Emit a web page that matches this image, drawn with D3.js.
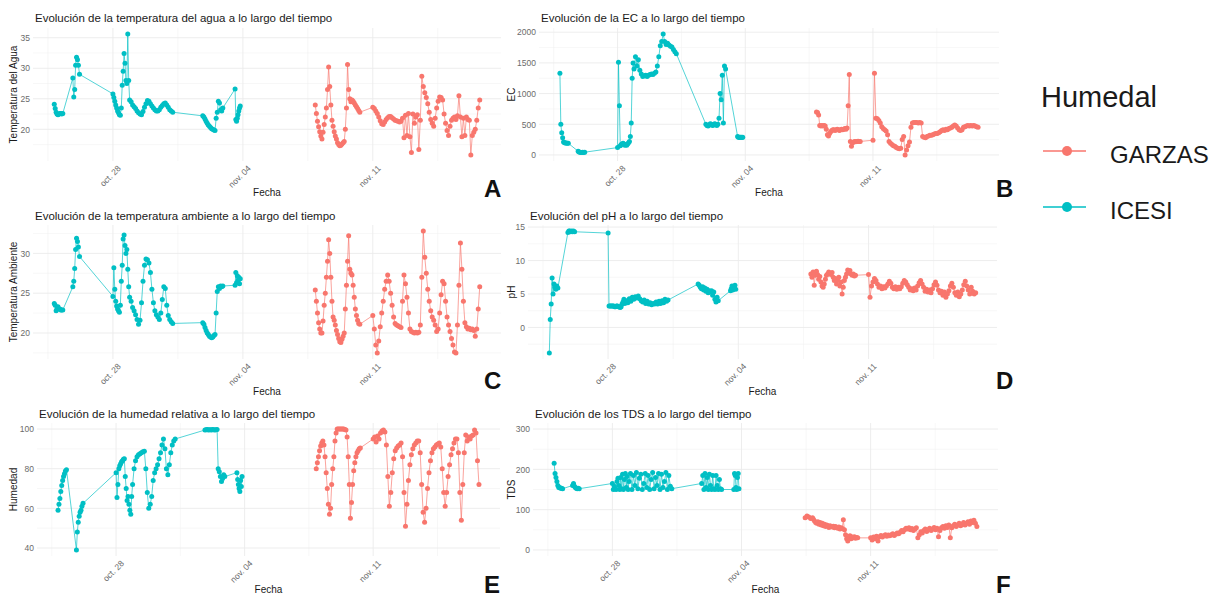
<!DOCTYPE html>
<html>
<head>
<meta charset="utf-8">
<script src="https://cdn.jsdelivr.net/npm/d3@7"></script>
<style>
  body { margin: 0; background: #fff; }
  svg { font-family: "Liberation Sans", Arial, sans-serif; }
</style>
</head>
<body>
<svg width="1230" height="597"></svg>
<script>
// sample times, in days after 24 Oct (both wetlands log every variable at the same times)
const tIcesi = [
  0.84, 0.89, 0.94, 0.99, 1.04, 1.09, 1.14, 1.19, 1.24, 1.30,
  1.84, 1.89, 1.94, 1.99, 2.04, 2.09, 2.14, 2.20,
  4.00, 4.05, 4.10, 4.15, 4.20, 4.25, 4.30, 4.35, 4.40,
  4.45, 4.50, 4.55, 4.60, 4.65, 4.70, 4.75, 4.80, 4.85, 4.90,
  4.98, 5.06, 5.14, 5.22, 5.30, 5.38, 5.46, 5.54, 5.62, 5.70, 5.78, 5.86, 5.94, 6.02, 6.10,
  6.18, 6.26, 6.34, 6.42, 6.50, 6.58, 6.66, 6.74, 6.82, 6.90, 6.98, 7.06, 7.14, 7.22,
  8.84, 8.90, 8.96, 9.02, 9.08, 9.14, 9.20, 9.26, 9.32, 9.38, 9.44, 9.50,
  9.56, 9.62, 9.68, 9.74, 9.80, 9.86, 9.92,
  10.58, 10.62, 10.66, 10.70, 10.74, 10.78, 10.82, 10.86
];
const tGarzas = [
  14.45, 14.55, 14.65, 14.75, 14.85,
  14.90, 14.96, 15.02, 15.08, 15.14, 15.20, 15.26, 15.32, 15.38, 15.44,
  15.50, 15.56, 15.62, 15.68, 15.74, 15.80, 15.86, 15.92, 15.98, 16.04,
  16.10, 16.16, 16.22, 16.28, 16.34, 16.40, 16.46, 16.52, 16.58, 16.64,
  16.70, 16.76, 16.82, 16.88, 16.94, 17.00, 17.06, 17.12, 17.18, 17.24, 17.30,
  18.00, 18.08, 18.16, 18.24, 18.32, 18.40, 18.48, 18.56, 18.64, 18.72,
  18.80, 18.88, 18.96, 19.04, 19.12, 19.20, 19.28, 19.36, 19.44, 19.52,
  19.60, 19.68, 19.76, 19.84, 19.92, 20.00, 20.08, 20.16, 20.24, 20.32,
  20.40, 20.48, 20.56, 20.64, 20.72, 20.80, 20.88, 20.96, 21.04, 21.12,
  21.20, 21.28, 21.36, 21.44, 21.52, 21.60, 21.68, 21.76, 21.84, 21.92,
  22.00, 22.08, 22.16, 22.24, 22.32, 22.40, 22.48, 22.56, 22.64, 22.72,
  22.80, 22.88, 22.96, 23.04, 23.12, 23.20, 23.28, 23.36, 23.44, 23.52,
  23.60, 23.68, 23.76
];

// A - temperatura del agua
const aguaIcesi = [
  24.1, 23.4, 22.8, 22.5, 22.4, 22.5, 22.6, 22.6, 22.5, 22.6,
  28.4, 25.3, 26.5, 30.5, 31.8, 31.4, 30.5, 29.0,
  25.8, 25.2, 24.6, 24.0, 23.5, 23.0, 22.7, 22.4, 22.3,
  23.5, 27.2, 29.5, 32.4, 30.8, 28.0, 27.5, 35.6, 28.0, 24.8,
  24.5, 24.0, 23.7, 23.4, 23.0, 22.7, 22.5, 22.4, 22.9, 23.6, 24.2, 24.7, 24.6, 24.2, 23.8,
  23.5, 23.2, 23.0, 23.0, 23.2, 23.6, 23.9, 24.2, 24.3, 24.0, 23.6, 23.2, 23.0, 22.8,
  22.2, 22.0, 21.7, 21.3, 21.0, 20.7, 20.5, 20.3, 20.1, 20.0, 19.9, 19.8,
  21.8, 22.8, 24.6, 24.3, 23.2, 23.0, 23.5,
  26.6, 21.6, 21.3, 21.8, 22.4, 23.0, 23.5, 23.8
];
const aguaGarzas = [
  null, null, null, null, null,
  24.0, 22.6, 21.3, 20.4, 19.6, 18.9, 18.4, 19.5, 20.8, 22.0,
  23.5, 26.5, 30.2, 27.0, 24.0, 21.5, 20.5, 19.6, 18.9, 18.4,
  17.8, 17.5, 17.3, 17.4, 17.6, 17.8, 18.0, 20.0, 23.5, 30.6,
  26.5, 25.0, 24.5, 24.8, 24.6, 24.3, 24.0, 23.7, 23.4, 23.1, 22.8,
  23.6, 23.4, 23.0, 22.6, 22.0, 21.4, 20.9, 20.8, 21.2, 21.6,
  21.9, 22.1, 22.1, 21.9, 21.7, 21.5, 21.4, 21.3, 21.2, 21.3,
  21.8, 18.6, 22.3, 19.0, 22.6, 18.8, 16.2, 22.5, 21.0, 22.0,
  22.4, 16.7, 21.5, 28.7, 27.0, 26.0, 25.2, 24.2, 22.8, 21.6,
  21.0, 20.5, 21.8, 23.5, 24.6, 25.3, 25.2, 24.8, 22.5, 21.0,
  19.8, 19.0, 20.5, 21.5, 21.8, 22.0, 21.6, 22.2, 25.5, 22.0,
  18.8, 21.8, 19.0, 22.0, 21.6, 21.5, 15.8, 19.0, 19.5, 20.0,
  21.5, 23.5, 24.8
];

// B - EC
const ecIcesi = [
  1330, 500, 360, 280, 210, 200, 195, 195, 190, 190,
  60, 50, 45, 40, 40, 45, 40, 45,
  120, 1510, 800, 150, 170, 180, 190, 180, 160,
  170, 160, 180, 200, 220, 300, 520, 1250, 1500, 1400,
  1600, 1450, 1550, 1380, 1320, 1280, 1290, 1300, 1280, 1300, 1310, 1320, 1310, 1330, 1350,
  1450, 1600, 1780, 1850, 1970, 1850, 1800, 1820, 1790, 1770, 1760, 1720, 1680, 1650,
  500, 480, 470, 490, 510, 500, 480, 490, 510, 500, 480, 500,
  600, 1000, 900, 1300, 520, 1450, 1400,
  300, 290, 290, 285, 290, 290, 285, 290
];
const ecGarzas = [
  null, null, null, null, null,
  700, 690, 650, 480, 470, 480, 470, 480, 470, 420,
  330, 310, 350, 380, 400, 410, 410, 400, 410, 420,
  410, 400, 410, 420, 410, 420, 430, 420, 440, 800,
  1310, 220, 140, 200, 210, 220, 215, 220, 225, 220, 220,
  240, 1330, 600, 590, 560, 520, 460, 430, 410, 390,
  330, 220, 190, 170, 150, 140, 120, 110, 100, 110,
  250, 300, 0, 80, 150, 210, 450, 520, 530, 530,
  530, 520, 530, 520, 300, 290, 280, 300, 310, 320,
  320, 330, 340, 350, 350, 360, 380, 400, 410, 400,
  420, 410, 430, 440, 450, 470, 490, 470, 440, 410,
  400, 410, 450, 460, 470, 480, 470, 480, 470, 480,
  470, 460, 450
];

// C - temperatura ambiente
const ambIcesi = [
  23.7, 23.5, 22.8, 23.1, 23.3, 23.0, 23.0, 22.9, 22.9, 22.9,
  25.8, 26.5, 28.1, 30.5, 31.9, 31.5, 30.8, 29.6,
  24.6, 28.2, 25.5, 24.0, 23.4, 23.0, 22.8, 22.6, 23.5,
  26.5, 28.5, 31.8, 32.3, 31.0, 30.0, 30.5, 28.0, 25.8, 24.5,
  24.0, 23.2, 22.8, 22.3, 21.7, 21.1, 21.6, 23.8, 26.5, 28.5, 29.3, 29.2, 28.8, 27.6, 25.5,
  23.8, 22.8, 22.3, 22.0, 21.7, 22.5, 24.2, 25.8, 25.6, 23.5, 22.2, 21.7, 21.4, 21.2,
  21.3, 21.1, 20.7, 20.3, 20.0, 19.8, 19.6, 19.5, 19.4, 19.5, 19.7, 19.8,
  22.5, 25.2, 25.8, 25.6, 25.9, 25.8, 25.9,
  26.0, 27.6, 26.3, 27.2, 26.6, 27.0, 26.2, 26.8
];
const ambGarzas = [
  null, null, null, null, null,
  25.4, 24.0, 22.5, 21.3, 20.5, 20.0, 20.0, 21.5, 23.5, 25.0,
  27.0, 29.0, 31.7, 30.0, 27.0, 24.0, 22.0, 21.6, 21.0, 20.3,
  19.8, 19.3, 18.9, 18.8, 19.2, 19.6, 20.0, 23.0, 26.0, 29.0,
  32.2, 28.0, 27.5, 27.3, 26.0, 24.5, 23.0, 22.2, 21.6, 21.2, 21.1,
  22.2, 20.5, 18.5, 17.5, 19.0, 20.8, 22.5, 24.0, 25.5, 26.5,
  27.3, 26.5, 25.0, 23.5, 22.0, 21.2, 21.0, 20.9, 20.8, 20.7,
  24.0, 27.3, 26.2, 24.5, 22.5, 20.5, 20.2, 20.1, 20.0, 20.1,
  20.0, 20.1, 21.0, 27.0, 32.8, 29.5, 27.5, 25.5, 24.0, 22.8,
  22.0, 21.6, 21.0, 20.2, 20.5, 22.5, 24.8, 26.5, 26.2, 24.0,
  22.0, 21.0, 20.2, 19.3, 18.5, 17.6, 17.5, 21.0, 26.0, 31.3,
  28.0, 24.0, 21.3, 20.8, 20.5, 20.6, 20.4, 20.5, 20.3, 19.6,
  20.5, 23.0, 25.8
];

// D - pH
const phIcesi = [
  -3.8, 1.2, 3.5, 7.4, 5.0, 6.5, 6.0, 5.7, 6.2, 5.9,
  14.2, 14.4, 14.4, 14.3, 14.4, 14.3, 14.4, 14.3,
  14.1, 3.2, 3.2, 3.2, 3.2, 3.2, 3.2, 3.1, 3.1,
  3.2, 3.2, 3.1, 3.1, 3.0, 3.1, 3.5, 3.8, 4.2, 3.6,
  4.0, 3.7, 4.3, 3.9, 4.5, 4.2, 4.6, 4.4, 4.7, 4.3, 4.0, 3.8, 4.1, 3.6, 3.9,
  3.5, 3.7, 3.4, 3.6, 3.5, 3.8, 3.5, 3.9, 3.6, 4.0, 3.7, 4.2, 3.9, 4.1,
  6.5, 6.3, 6.0, 5.8, 6.1, 5.6, 5.9, 5.4, 5.7, 5.2, 5.5, 5.3,
  5.5, 4.8, 5.3, 4.2, 3.8, 4.5, 4.0,
  5.5, 5.8, 6.2, 5.6, 6.0, 5.8, 6.3, 5.7
];
const phGarzas = [
  null, null, null, null, null,
  8.0, 7.5, 8.3, 6.3, 7.8, 8.4, 7.9, 7.2, 7.6, 6.8,
  6.2, 6.0, 6.5, 7.2, 7.8, 8.0, 8.3, 8.1, 7.9, 8.2,
  7.5, 7.0, 7.3, 6.5, 7.0, 7.5, 6.2, 6.8, 5.0, 6.0,
  7.0, 7.5, 8.0, 8.6, 8.3, 8.5, 8.0, 7.8, 8.0, 7.7, 7.8,
  7.9, 4.5, 6.2, 6.8, 7.3, 7.0, 6.5, 6.0, 6.2, 5.8,
  6.1, 5.9, 6.2, 6.5, 6.9, 6.6, 6.0, 5.8, 6.1, 5.7,
  6.0, 5.8, 6.1, 6.6, 7.0, 6.8, 6.4, 6.0, 5.6, 5.8,
  5.5, 5.9, 5.6, 6.2, 6.7, 7.0, 6.5, 6.0, 5.4, 5.7,
  5.3, 5.6, 5.2, 5.8, 6.4, 6.8, 6.3, 5.6, 5.2, 5.4,
  4.8, 5.3, 4.5, 5.0, 5.5, 6.2, 6.6, 6.0, 5.2, 4.8,
  5.3, 4.6, 5.0, 5.6, 6.4, 6.9, 6.2, 5.6, 5.0, 6.0,
  5.4, 5.0, 5.2
];

// E - humedad relativa
const humIcesi = [
  59.0, 62.0, 65.0, 68.5, 71.5, 74.0, 76.0, 77.5, 78.8, 79.5,
  39.0, 48.0, 53.0, 56.0, 58.0, 59.0, 61.0, 62.5,
  78.0, 65.5, 72.0, 80.0, 81.5, 82.5, 83.5, 84.0, 84.8,
  85.0, 76.0, 70.0, 64.0, 66.0, 62.0, 59.0, 57.0, 66.0, 72.0,
  80, 84, 86, 87, 87.5, 88, 88.5, 88.8, 80, 68, 60, 62, 66, 74, 78,
  80, 82, 85, 88, 92, 95, 90, 80, 77, 82, 88, 92, 94, 95,
  99.5, 99.6, 99.8, 99.5, 99.7, 99.6, 99.5, 99.8, 99.7, 99.5, 99.6, 99.8,
  80.0, 78.5, 76.0, 73.5, 75.0, 77.0, 76.0,
  78, 74.5, 72, 70, 68.5, 74, 71, 76
];
const humGarzas = [
  null, null, null, null, null,
  80.0, 83.0, 86.0, 89.0, 91.5, 93.0, 94.0, 92.0, 86.0, 78.0,
  70.0, 62.0, 57.0, 60.0, 72.0, 80.0, 86.0, 94.0, 98.0, 100.0,
  100.0, 100.0, 100.0, 100.0, 100.0, 100.0, 99.8, 99.5, 96.0, 86.0,
  72.0, 55.0, 63.0, 72.0, 79.0, 83.0, 86.0, 88.0, 89.0, 90.0, 90.5,
  95.0, 96.0, 93.5, 96.5, 95.0, 98.0, 99.0, 99.5, 98.5, 92.0,
  76.0, 61.0, 68.0, 78.0, 85.0, 89.0, 90.5, 91.5, 92.0, 93.0,
  86.0, 68.0, 51.0, 62.0, 74.0, 82.0, 87.0, 90.0, 92.0, 93.0,
  94.0, 94.0, 88.0, 72.0, 58.0, 53.0, 60.0, 70.0, 78.0, 84.0,
  88.0, 90.0, 91.0, 92.0, 92.5, 93.0, 91.0, 80.0, 68.0, 61.0,
  68.0, 76.0, 82.0, 87.0, 90.0, 93.0, 95.0, 95.0, 88.0, 68.0,
  54.0, 72.0, 88.0, 97.0, 94.0, 96.0, 95.0, 96.5, 97.0, 99.5,
  98.0, 84.0, 72.0
];

// F - TDS
const tdsIcesi = [
  215, 190, 180, 170, 160, 155, 155, 153, 153, 152,
  160, 165, 158, 155, 153, 152, 153, 152,
  165, 150, 158, 152, 150, 170, 178, 160, 150,
  180, 152, 188, 150, 175, 190, 155, 182, 150, 170,
  190, 150, 185, 160, 192, 152, 178, 188, 150, 165, 190, 155, 185, 150, 175,
  192, 152, 180, 160, 190, 150, 188, 155, 170, 192, 150, 185, 158, 152,
  165, 185, 150, 190, 155, 180, 150, 188, 160, 150, 185, 152,
  150, 185, 160, 150, 175, 152, 150,
  150, 190, 185, 155, 150, 180, 190, 152
];
const tdsGarzas = [
  80, 84, 82, 78, 80,
  76, 72, 68, 66, 70, 64, 68, 62, 66, 60,
  64, 58, 62, 60, 56, 60, 58, 57, 59, 55,
  58, 56, 54, 57, 52, 55, 53, 75, 50, 38,
  28, 22, 30, 35, 28, 32, 30, 33, 29, 31, 30,
  30, 25, 32, 28, 34, 22, 33, 36, 32, 35,
  38, 34, 37, 35, 38, 40, 36, 39, 42, 40,
  44, 48, 45, 50, 54, 52, 55, 50, 53, 48,
  52, 55, 30, 38, 45, 42, 48, 52, 46, 50,
  54, 48, 52, 56, 50, 54, 33, 48, 55, 58,
  54, 60, 56, 62, 30, 55, 60, 64, 58, 62,
  66, 60, 64, 68, 62, 66, 70, 64, 72, 68,
  74, 66, 58
];

const xTickDays = [4, 11, 18];
const xTickLabels = ["oct. 28", "nov. 04", "nov. 11"];
const xMinorDays = [0.5, 7.5, 14.5, 21.5];
const groups = ["GARZAS", "ICESI"];
const groupColors = { GARZAS: "#F8766D", ICESI: "#00BFC4" };

const base = Date.UTC(2023, 9, 24);
const toDate = t => new Date(base + t * 864e5);

const panels = [
  { title: "Evolución de la temperatura del agua a lo largo del tiempo", ylab: "Temperatura del Agua",
    icesi: aguaIcesi, garzas: aguaGarzas, yTicks: [20, 25, 30, 35], yMinor: [17.5, 22.5, 27.5, 32.5],
    letter: "A", box: [33, 28, 501, 161], col: 0, row: 0 },
  { title: "Evolución de la EC a lo largo del tiempo", ylab: "EC",
    icesi: ecIcesi, garzas: ecGarzas, yTicks: [0, 500, 1000, 1500, 2000], yMinor: [250, 750, 1250, 1750],
    letter: "B", box: [539, 28, 999, 161], col: 1, row: 0 },
  { title: "Evolución de la temperatura ambiente a lo largo del tiempo", ylab: "Temperatura Ambiente",
    icesi: ambIcesi, garzas: ambGarzas, yTicks: [20, 25, 30], yMinor: [17.5, 22.5, 27.5, 32.5],
    letter: "C", box: [33, 225, 501, 359], col: 0, row: 1 },
  { title: "Evolución del pH a lo largo del tiempo", ylab: "pH",
    icesi: phIcesi, garzas: phGarzas, yTicks: [0, 5, 10, 15], yMinor: [-2.5, 2.5, 7.5, 12.5],
    letter: "D", box: [528, 225, 997, 359], col: 1, row: 1 },
  { title: "Evolución de la humedad relativa a lo largo del tiempo", ylab: "Humedad",
    icesi: humIcesi, garzas: humGarzas, yTicks: [40, 60, 80, 100], yMinor: [50, 70, 90],
    letter: "E", box: [37, 423, 500, 556], col: 0, row: 2 },
  { title: "Evolución de los TDS a lo largo del tiempo", ylab: "TDS",
    icesi: tdsIcesi, garzas: tdsGarzas, yTicks: [0, 100, 200, 300], yMinor: [50, 150, 250],
    limits: [0, 300], letter: "F", box: [533, 423, 998, 556], col: 1, row: 2 }
];

const titleY = [22, 220, 418];
const fechaY = [196, 395, 593];
const letterY = [197, 389, 593];

const svg = d3.select("svg");

// shared time domain, padded 5% like ggplot
const allDates = tIcesi.concat(tGarzas).map(toDate);
const xExt = d3.extent(allDates);
const xPad = (xExt[1] - xExt[0]) * 0.05;
const xDomain = [new Date(+xExt[0] - xPad), new Date(+xExt[1] + xPad)];

const zip = (ts, vs) => ts.map((t, i) => ({ date: toDate(t), v: vs[i] })).filter(d => d.v != null);

panels.forEach(p => {
  const [x0, y0, x1, y1] = p.box;
  const series = [
    { name: "GARZAS", pts: zip(tGarzas, p.garzas) },
    { name: "ICESI", pts: zip(tIcesi, p.icesi) }
  ];
  const ext = p.limits || d3.extent(series.flatMap(s => s.pts.map(d => d.v)));
  const yPad = (ext[1] - ext[0]) * 0.05;

  const x = d3.scaleUtc().domain(xDomain).range([x0, x1]);
  const y = d3.scaleLinear().domain([ext[0] - yPad, ext[1] + yPad]).range([y1, y0]);

  const g = svg.append("g");

  // grid
  g.selectAll(".ymin").data(p.yMinor).join("line")
    .attr("x1", x0).attr("x2", x1).attr("y1", d => y(d)).attr("y2", d => y(d))
    .attr("stroke", "#F2F2F2").attr("stroke-width", 0.6);
  g.selectAll(".xmin").data(xMinorDays).join("line")
    .attr("y1", y0).attr("y2", y1).attr("x1", d => x(toDate(d))).attr("x2", d => x(toDate(d)))
    .attr("stroke", "#F2F2F2").attr("stroke-width", 0.6);
  g.selectAll(".ymaj").data(p.yTicks).join("line")
    .attr("x1", x0).attr("x2", x1).attr("y1", d => y(d)).attr("y2", d => y(d))
    .attr("stroke", "#EBEBEB").attr("stroke-width", 0.9);
  g.selectAll(".xmaj").data(xTickDays).join("line")
    .attr("y1", y0).attr("y2", y1).attr("x1", d => x(toDate(d))).attr("x2", d => x(toDate(d)))
    .attr("stroke", "#EBEBEB").attr("stroke-width", 0.9);

  // lines then points
  const line = d3.line().x(d => x(d.date)).y(d => y(d.v));
  series.forEach(s => {
    g.append("path").datum(s.pts)
      .attr("d", line)
      .attr("fill", "none")
      .attr("stroke", groupColors[s.name])
      .attr("stroke-opacity", 0.75)
      .attr("stroke-width", 0.9);
  });
  series.forEach(s => {
    g.append("g").selectAll("circle").data(s.pts).join("circle")
      .attr("cx", d => x(d.date)).attr("cy", d => y(d.v)).attr("r", 2.5)
      .attr("fill", groupColors[s.name]);
  });

  // axes (labels only, theme_minimal)
  const yAxis = g.append("g").attr("transform", `translate(${x0},0)`)
    .call(d3.axisLeft(y).tickValues(p.yTicks).tickFormat(d3.format("d")).tickSize(0).tickPadding(3));
  yAxis.select(".domain").remove();
  yAxis.selectAll("text").attr("fill", "#6b6b6b").attr("font-size", 8.5);

  const xAxis = g.append("g").attr("transform", `translate(0,${y1})`)
    .call(d3.axisBottom(x).tickValues(xTickDays.map(toDate))
      .tickFormat((d, i) => xTickLabels[i]).tickSize(0));
  xAxis.select(".domain").remove();
  xAxis.selectAll("text")
    .attr("y", 0).attr("dy", 0)
    .attr("text-anchor", "end")
    .attr("transform", "translate(8,8) rotate(-45)")
    .attr("fill", "#6b6b6b").attr("font-size", 8.5);

  // titles
  g.append("text").attr("x", x0 + 2).attr("y", titleY[p.row])
    .attr("font-size", 11.5).attr("fill", "#1a1a1a").text(p.title);
  g.append("text").attr("x", (x0 + x1) / 2).attr("y", fechaY[p.row])
    .attr("text-anchor", "middle").attr("font-size", 10).attr("fill", "#1a1a1a").text("Fecha");
  g.append("text")
    .attr("transform", `translate(${p.col * 498 + 17},${(y0 + y1) / 2}) rotate(-90)`)
    .attr("text-anchor", "middle").attr("font-size", 10).attr("fill", "#1a1a1a").text(p.ylab);

  // panel letter
  g.append("text").attr("x", p.col === 0 ? 484 : 996).attr("y", letterY[p.row])
    .attr("font-size", 24).attr("font-weight", "bold").attr("fill", "#111").text(p.letter);
});

// legend
const legend = svg.append("g");
legend.append("text").attr("x", 1041).attr("y", 107)
  .attr("font-size", 29).attr("fill", "#1a1a1a").text("Humedal");
const keyY = [151, 207];
groups.forEach((name, i) => {
  legend.append("line").attr("x1", 1043).attr("x2", 1086).attr("y1", keyY[i]).attr("y2", keyY[i])
    .attr("stroke", groupColors[name]).attr("stroke-width", 2).attr("stroke-opacity", 0.75);
  legend.append("circle").attr("cx", 1067).attr("cy", keyY[i]).attr("r", 5)
    .attr("fill", groupColors[name]);
  legend.append("text").attr("x", 1110).attr("y", keyY[i] + 12)
    .attr("font-size", 24).attr("fill", "#1a1a1a").text(name);
});
</script>
</body>
</html>
